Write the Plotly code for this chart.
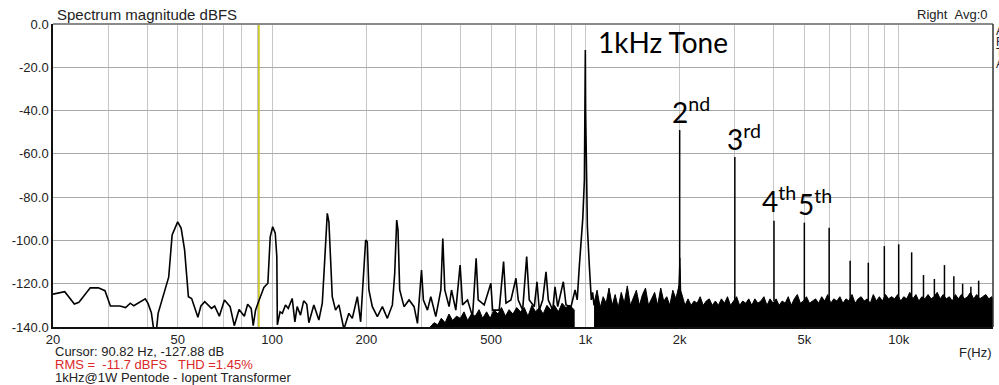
import plotly.graph_objects as go

# ---------------- data ----------------
# main spectrum trace (20 Hz .. ~1.07 kHz)
low_freq = [20, 21.8, 23.4, 24.2, 26.3, 27.9, 29.3, 30.5, 32.7, 34.1,
            35.3, 36.2, 39.4, 40.2, 41.2, 41.9, 42.8, 43.3, 46.8, 48.0,
            50.0, 51.3, 52.6, 54.1, 55.4, 58.0, 59.3, 61.0, 64.1, 65.6,
            67.9, 70.5, 73.5, 75.8, 78.5, 81.6, 83.6, 85.8, 87.1, 88.6,
            90.8, 94.2, 97.0, 98.7, 100.5, 102.4, 103.6, 104.0, 106.1, 107.9,
            110.4, 112.7, 116.0, 118.3, 120.3, 123.3, 126.2, 129.1, 131.1, 136.0,
            141.1, 144.7, 147.1, 150.1, 151.9, 153.8, 155.7, 159.5, 163.5, 169.6,
            175.9, 180.4, 187.2, 191.8, 199.0, 201.4, 203.8, 209.0, 216.9, 225.0,
            233.4, 242.2, 246.4, 250.0, 252.4, 255.6, 263.8, 273.8, 284.0, 291.2,
            300.0, 304.2, 313.4, 321.2, 333.2, 345.8, 350.8, 356.0, 367.4, 374.0,
            386.0, 398.4, 405.6, 420.8, 436.6, 448.2, 455.0, 475.6, 499.4, 505.8,
            531.0, 548.4, 558.0, 578.8, 600.6, 610.8, 630.8, 649.8, 662.2, 687.2,
            701.0, 713.0, 731.0, 749.0, 761.8, 786.8, 800.2, 816.2, 850.6, 867.6,
            900.2, 927.2, 942.0, 957.2, 971.0, 981.4, 993.0, 998.0, 1000.0, 1002.0,
            1007.0, 1015.0, 1030.0, 1045.0, 1055.0, 1066.0]
low_db = [-124.8, -123.7, -129.4, -128.6, -121.9, -121.9, -123.2, -130.3, -130.3, -131.0,
          -129.0, -130.2, -127.0, -129.1, -133.4, -141.0, -141.0, -133.7, -117.0, -97.5,
          -91.4, -94.4, -104.4, -126.0, -126.8, -135.5, -130.3, -128.3, -131.4, -130.3,
          -135.0, -127.5, -130.6, -139.4, -131.9, -135.0, -129.5, -131.4, -139.4, -132.2,
          -127.9, -121.7, -119.8, -98.3, -93.7, -96.7, -107.5, -139.0, -133.0, -133.7,
          -129.8, -131.4, -126.8, -137.6, -130.6, -134.5, -127.9, -129.5, -138.0, -129.8,
          -136.8, -129.0, -110.6, -87.5, -91.4, -112.2, -126.0, -132.2, -129.8, -141.0,
          -133.7, -136.0, -126.0, -137.6, -99.8, -100.6, -122.9, -130.6, -135.2, -130.6,
          -136.0, -129.8, -115.2, -90.6, -95.2, -122.9, -130.6, -127.5, -130.6, -138.3,
          -113.7, -127.5, -132.2, -126.0, -135.2, -122.9, -99.1, -122.9, -130.6, -122.9,
          -132.2, -111.4, -129.8, -127.5, -135.2, -108.3, -127.5, -129.8, -119.8, -132.2,
          -132.2, -109.8, -129.0, -127.5, -117.5, -127.5, -132.2, -107.5, -127.5, -130.6,
          -119.1, -132.2, -127.5, -114.5, -127.5, -132.2, -121.4, -130.6, -119.1, -129.8,
          -130.6, -122.9, -127.5, -111.4, -100.0, -89.8, -72.0, -40.0, -12.0, -40.0,
          -75.0, -93.7, -112.0, -127.5, -124.0, -130.0]

# dense noise floor (upper edge of the black band), 320 Hz .. 921 Hz
noise1_freq = [320, 329, 338, 347, 357, 367, 377, 388, 399, 410,
               421, 433, 445, 458, 470, 484, 497, 511, 526, 540,
               556, 571, 587, 604, 621, 638, 656, 675, 694, 713,
               733, 754, 775, 797, 820, 843, 866, 891, 921]
noise1_db = [-140, -138, -139, -136, -138, -134, -137, -135, -136, -133,
             -137, -134, -135, -132, -136, -133, -136, -132, -134, -131,
             -135, -132, -134, -131, -133, -131, -135, -130, -133, -131,
             -134, -130, -132, -130, -133, -129, -131, -130, -132]

# dense noise floor, 1.07 kHz .. 20 kHz
noise2_freq = [1066, 1090, 1115, 1140, 1165, 1190, 1218, 1245, 1273, 1302,
               1331, 1361, 1392, 1423, 1455, 1488, 1522, 1556, 1591, 1627,
               1664, 1701, 1740, 1779, 1819, 1860, 1902, 1945, 1989, 2034,
               2080, 2127, 2175, 2224, 2274, 2325, 2378, 2431, 2486, 2542,
               2600, 2658, 2718, 2780, 2842, 2906, 2972, 3039, 3108, 3178,
               3250, 3323, 3398, 3475, 3553, 3633, 3715, 3799, 3885, 3973,
               4062, 4154, 4248, 4343, 4441, 4542, 4644, 4749, 4856, 4966,
               5078, 5193, 5310, 5430, 5552, 5678, 5806, 5937, 6071, 6208,
               6349, 6492, 6638, 6788, 6942, 7098, 7259, 7423, 7590, 7762,
               7937, 8116, 8300, 8487, 8679, 8875, 9075, 9280, 9490, 9704,
               9923, 10150, 10380, 10610, 10850, 11100, 11350, 11600, 11860, 12130,
               12410, 12690, 12970, 13270, 13570, 13870, 14190, 14510, 14830, 15170,
               15510, 15860, 16220, 16590, 16960, 17340, 17740, 18140, 18550, 18970,
               19390, 19830, 20000]
noise2_db = [-129, -123, -131, -126, -129, -122, -130, -125, -131, -124,
             -129, -121, -130, -126, -123, -130, -125, -122, -130, -127,
             -124, -130, -122, -128, -126, -130, -123, -127, -121, -125,
             -130, -127, -130, -128, -129, -126, -130, -128, -127, -130,
             -128, -130, -127, -129, -126, -130, -128, -126, -130, -128,
             -129, -127, -130, -127, -129, -128, -126, -130, -127, -129,
             -127, -130, -128, -129, -126, -130, -127, -125, -129, -128,
             -126, -129, -128, -127, -129, -126, -128, -125, -129, -127,
             -128, -126, -129, -127, -128, -125, -129, -127, -126, -128,
             -127, -129, -125, -128, -126, -128, -125, -127, -126, -127,
             -125, -128, -126, -127, -124, -127, -125, -128, -126, -127,
             -125, -127, -126, -124, -127, -125, -127, -126, -128, -125,
             -127, -125, -127, -126, -124, -127, -125, -127, -126, -125,
             -127, -126, -127]

# harmonic / spur spikes above the noise floor
harm_freq = [2000, 3000, 4000, 5000, 6000, 7000, 8000, 9000, 10000,
             11000, 12000, 13000, 14000, 15000, 16000, 17000, 18000]
harm_db = [-49.0, -61.5, -90.9, -91.8, -94.1, -109.4, -110.3, -102.6, -101.8,
           -105.5, -116.0, -117.8, -111.4, -116.5, -120.0, -121.4, -118.6]

# skirt of the 2nd harmonic
skirt2_freq = [1980, 1993, 1998, 2002, 2007, 2020]
skirt2_db = [-128, -112, -108, -108, -112, -128]

cursor_freq = 90.82

grid_freq = [20, 30, 40, 50, 60, 70, 80, 90,
             100, 200, 300, 400, 500, 600, 700, 800, 900,
             1000, 2000, 3000, 4000, 5000, 6000, 7000, 8000, 9000,
             10000, 20000]
grid_text = ["20", "", "", "50", "", "", "", "",
             "100", "200", "", "", "500", "", "", "", "",
             "1k", "2k", "", "", "5k", "", "", "", "",
             "10k", "20k"]
y_vals = [0, -20, -40, -60, -80, -100, -120, -140]
y_text = ["0.0", "-20.0", "-40.0", "-60.0", "-80.0", "-100.0", "-120.0", "-140.0"]

Y_BOTTOM = -140
SPIKE_BASE = -128

# ---------------- figure ----------------
W, H = 999, 385
L, R, T, B = 53, 993, 24, 327


def px_x(px):
    return (px - L) / (R - L)


def px_y(py):
    return (B - py) / (B - T)


fig = go.Figure()

# cursor
fig.add_trace(go.Scatter(x=[cursor_freq, cursor_freq], y=[Y_BOTTOM, 0], mode="lines",
                         line=dict(color="#c8c000", width=1.5), hoverinfo="skip"))

# noise bands (filled polygons)
for fx, fy in ((noise1_freq, noise1_db), (noise2_freq, noise2_db)):
    xs = list(fx) + list(reversed(fx))
    ys = list(fy) + [Y_BOTTOM] * len(fx)
    fig.add_trace(go.Scatter(x=xs, y=ys, mode="lines", fill="toself",
                             fillcolor="black", line=dict(color="black", width=1),
                             hoverinfo="skip"))

# main trace
fig.add_trace(go.Scatter(x=low_freq, y=low_db, mode="lines",
                         line=dict(color="black", width=1.6), hoverinfo="skip"))

# harmonic spikes
hx, hy = [], []
for f, d in zip(harm_freq, harm_db):
    hx += [f, f, None]
    hy += [SPIKE_BASE, d, None]
fig.add_trace(go.Scatter(x=hx, y=hy, mode="lines",
                         line=dict(color="black", width=1.5), hoverinfo="skip"))
fig.add_trace(go.Scatter(x=skirt2_freq, y=skirt2_db, mode="lines", fill="toself",
                         fillcolor="black", line=dict(color="black", width=1),
                         hoverinfo="skip"))

axis_font = dict(family="Liberation Sans, Arial, sans-serif", size=13, color="#222")

fig.update_layout(
    width=W, height=H,
    margin=dict(l=L, r=W - R, t=T, b=H - B, autoexpand=False),
    paper_bgcolor="white", plot_bgcolor="white",
    showlegend=False,
    xaxis=dict(type="log", range=[1.30103, 4.30103], automargin=False,
               tickvals=grid_freq, ticktext=grid_text,
               showgrid=True, gridcolor="#c6c6c6", gridwidth=1,
               ticks="", tickfont=axis_font,
               showline=True, linecolor="#111", linewidth=1.5,
               zeroline=False),
    yaxis=dict(range=[-140, 0], tickvals=y_vals, ticktext=y_text, automargin=False,
               showgrid=True, gridcolor="#a9a9a9", gridwidth=1,
               ticks="", tickfont=axis_font,
               showline=True, linecolor="#111", linewidth=1.5,
               zeroline=False),
)

# frame top and right
fig.add_shape(type="line", xref="paper", yref="paper", x0=0, x1=1, y0=1, y1=1,
              line=dict(color="#8a8a8a", width=2))
fig.add_shape(type="line", xref="paper", yref="paper", x0=1, x1=1, y0=0, y1=1,
              line=dict(color="#333", width=1.5))

txt_font = dict(family="Liberation Sans, Arial, sans-serif", size=13, color="#222")
anns = [
    dict(text="Spectrum magnitude dBFS", x=px_x(55), y=px_y(14), xanchor="left",
         yanchor="middle", font=dict(family="Liberation Sans, Arial, sans-serif", size=15, color="#222")),
    dict(text="Right\u00a0\u00a0Avg:0", x=px_x(990), y=px_y(15), xanchor="right",
         yanchor="middle", font=txt_font),
    dict(text="F(Hz)", x=px_x(994), y=px_y(352), xanchor="right", yanchor="middle", font=txt_font),
    dict(text="Cursor: 90.82 Hz, -127.88 dB", x=px_x(53), y=px_y(351), xanchor="left",
         yanchor="middle", font=txt_font),
    dict(text="RMS =\u00a0\u00a0-11.7 dBFS\u00a0\u00a0\u00a0THD =1.45%", x=px_x(53), y=px_y(364),
         xanchor="left", yanchor="middle",
         font=dict(family="Liberation Sans, Arial, sans-serif", size=13, color="#dc2828")),
    dict(text="1kHz@1W Pentode - Iopent Transformer", x=px_x(53), y=px_y(377), xanchor="left",
         yanchor="middle", font=txt_font),
]
for i, ch in enumerate("ARTA"):
    anns.append(dict(text=ch, x=px_x(994), y=px_y(31 + 11 * i), xanchor="left",
                     yanchor="middle", font=dict(family="Liberation Sans, Arial, sans-serif",
                                                 size=12, color="#222")))

big = dict(family="Lato, Open Sans, sans-serif", size=28, color="black")
anns += [
    dict(text="1kHz Tone", x=px_x(596), y=px_y(42), xanchor="left", yanchor="middle", font=big),
    dict(text="2<sup>nd</sup>", x=px_x(670), y=px_y(110), xanchor="left", yanchor="middle", font=big),
    dict(text="3<sup>rd</sup>", x=px_x(725), y=px_y(137), xanchor="left", yanchor="middle", font=big),
    dict(text="4<sup>th</sup>", x=px_x(760), y=px_y(200), xanchor="left", yanchor="middle", font=big),
    dict(text="5<sup>th</sup>", x=px_x(796), y=px_y(202), xanchor="left", yanchor="middle", font=big),
]
for a in anns:
    a.update(xref="paper", yref="paper", showarrow=False)
fig.update_layout(annotations=anns)

fig.write_html("out.html", config={"displayModeBar": False},
               post_script="document.body.style.margin='0';document.body.style.overflow='hidden';")
